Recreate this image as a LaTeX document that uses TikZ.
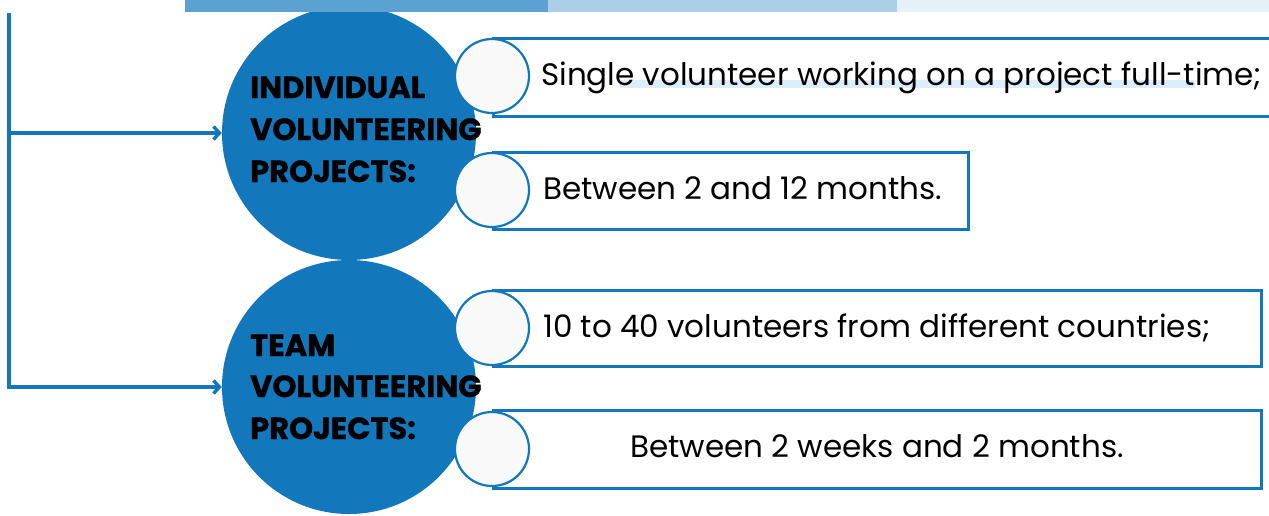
\documentclass[tikz,border=0pt]{standalone}
\usepackage{fontspec}
\setmainfont{Poppins}
\usetikzlibrary{arrows.meta}
\definecolor{mainblue}{HTML}{1277BB}
\definecolor{barA}{HTML}{5BA2D2}
\definecolor{barB}{HTML}{AACFE7}
\definecolor{barC}{HTML}{E5F1F9}
\definecolor{hilite}{HTML}{DCEEFC}
\definecolor{smallfill}{HTML}{F9F9F9}
\tikzset{
  bigc/.style={circle, fill=mainblue, minimum size=254pt, inner sep=0pt},
  smallc/.style={circle, fill=smallfill, draw=mainblue, line width=2.2pt, minimum size=74pt, inner sep=0pt},
  infobox/.style={draw=mainblue, line width=3pt, fill=white, inner sep=0pt},
  conn/.style={draw=mainblue, line width=3.4pt, -{Straight Barb[length=6pt,width=13pt,line width=3.4pt]}},
  title/.style={font=\fontsize{30.5}{35}\selectfont\bfseries\addfontfeature{FakeBold=1.2}, text=black, anchor=base west, inner sep=0pt},
  body/.style={font=\fontsize{31}{36}\selectfont, text=black, anchor=base west, inner sep=0pt}
}
\begin{document}
\begin{tikzpicture}[x=1pt,y=-1pt]
\useasboundingbox (0,0) rectangle (1269,515);
% big circles
\node[bigc] (c1) at (349,133) {};
\node[bigc] (c2) at (349,387) {};
% strip at top
\fill[barA] (185,0) rectangle (548,12);
\fill[barB] (548,0) rectangle (897,12);
\fill[barC] (897,0) rectangle (1269,12);
% connectors
\coordinate (top) at (9,13);
\draw[conn] (top) |- (c1.west);
\draw[conn] (top) |- (c2.west);
% boxes
\draw[infobox] (493,38) rectangle (1290,116);
\draw[infobox] (493,152) rectangle (968,229);
\draw[infobox] (493,290) rectangle (1261,366);
\draw[infobox] (493,410) rectangle (1261,488);
\fill[hilite] (620,80) rectangle (1195,88);
% small circles
\node[smallc] (s1) at (492,76) {};
\node[smallc] (s2) at (492,190) {};
\node[smallc] (s3) at (492,328) {};
\node[smallc] (s4) at (492,449) {};
% titles
\node[title] (t1a) at (250,98) {INDIVIDUAL};
\node[title] (t1b) at (250,140) {VOLUNTEERING};
\node[title] (t1c) at (250,182) {PROJECTS:};
\node[title] (t2a) at (250,356) {TEAM};
\node[title] (t2b) at (250,397) {VOLUNTEERING};
\node[title] (t2c) at (250,439) {PROJECTS:};
% texts
\node[body] (x1) at (541,85) {Single volunteer working on a project full-time;};
\node[body] (x2) at (543,199) {Between 2 and 12 months.};
\node[body] (x3) at (543,337) {10 to 40 volunteers from different countries;};
\node[body, anchor=base] (x4) at (877,457) {Between 2 weeks and 2 months.};
\end{tikzpicture}
\end{document}
